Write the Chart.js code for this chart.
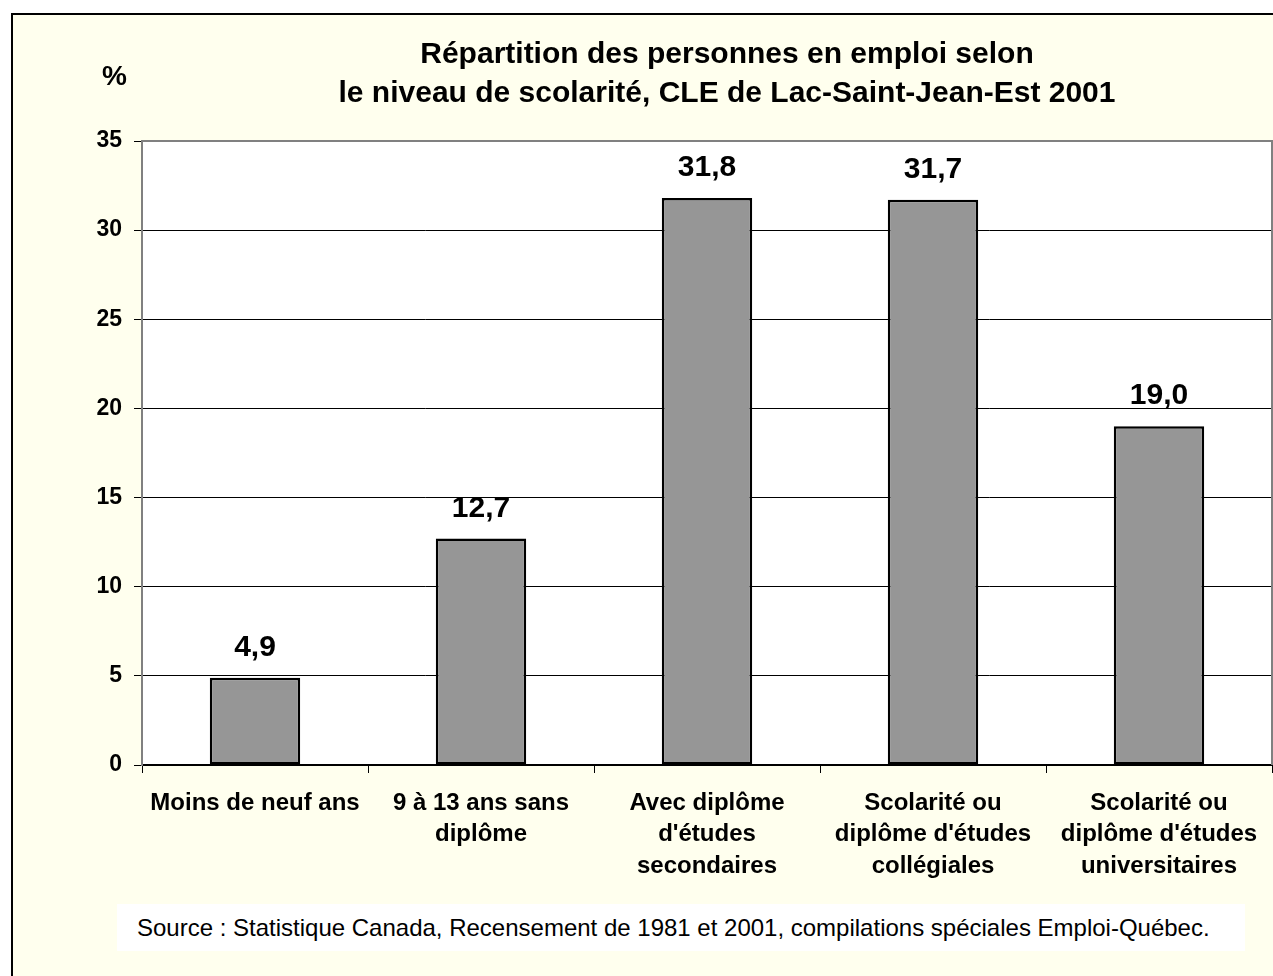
<!DOCTYPE html>
<html>
<head>
<meta charset="utf-8">
<script src="https://cdn.jsdelivr.net/npm/chart.js@4/dist/chart.umd.min.js"></script>
<style>
  html, body { margin: 0; padding: 0; overflow: hidden; background: #fff; }
  body { width: 1273px; height: 976px; position: relative; font-family: "Liberation Sans", Arial, sans-serif; }
  #frame { position: absolute; left: 11px; top: 13px; width: 1400px; height: 1100px; background: #FFFFEE; border: 2px solid #000; box-sizing: border-box; }
  #chartWrap { position: absolute; left: 0; top: 0; width: 1273px; height: 976px; }
  #title { position: absolute; left: 227px; top: 33px; width: 1000px; text-align: center; font-weight: bold; font-size: 30px; line-height: 39px; color: #000; }
  #unit { position: absolute; left: 102px; top: 62px; font-weight: bold; font-size: 28px; line-height: 28px; color: #000; }
  #source { position: absolute; left: 117px; top: 904px; width: 1128px; height: 47px; background: #fff; font-size: 24px; line-height: 47px; padding-left: 20px; box-sizing: border-box; color: #000; white-space: nowrap; }
</style>
</head>
<body>
<div id="frame"></div>
<div id="chartWrap"><canvas id="chart" width="1273" height="976"></canvas></div>
<div id="title">Répartition des personnes en emploi selon<br>le niveau de scolarité, CLE de Lac-Saint-Jean-Est 2001</div>
<div id="unit">%</div>
<div id="source">Source : Statistique Canada, Recensement de 1981 et 2001, compilations spéciales Emploi-Québec.</div>
<script>
// Chart data
const categories = [
  'Moins de neuf ans',
  ['9 à 13 ans sans', 'diplôme'],
  ['Avec diplôme', "d'études", 'secondaires'],
  ['Scolarité ou', "diplôme d'études", 'collégiales'],
  ['Scolarité ou', "diplôme d'études", 'universitaires']
];
const shares = [4.9, 12.7, 31.8, 31.7, 19.0];
const yTicks = [0, 5, 10, 15, 20, 25, 30, 35];

// white plot area, gray frame on top/right, value labels above bars
const plotArea = {
  id: 'plotArea',
  beforeDraw(chart) {
    const { ctx, chartArea: a } = chart;
    ctx.save();
    ctx.fillStyle = '#fff';
    ctx.fillRect(a.left, a.top, a.right - a.left, a.bottom - a.top);
    ctx.restore();
  },
  afterDraw(chart) {
    const { ctx, chartArea: a } = chart;
    ctx.save();
    ctx.strokeStyle = '#808080';
    ctx.lineWidth = 2;
    ctx.beginPath();
    ctx.moveTo(a.left, a.top);
    ctx.lineTo(a.right, a.top);
    ctx.lineTo(a.right, a.bottom);
    ctx.stroke();
    ctx.restore();
  },
  afterDatasetsDraw(chart) {
    const { ctx } = chart;
    const meta = chart.getDatasetMeta(0);
    ctx.save();
    ctx.font = 'bold 30px "Liberation Sans", Arial, sans-serif';
    ctx.fillStyle = '#000';
    ctx.textAlign = 'center';
    ctx.textBaseline = 'alphabetic';
    meta.data.forEach((bar, i) => {
      ctx.fillText(shares[i].toFixed(1).replace('.', ','), bar.x, bar.y - 22);
    });
    ctx.restore();
  }
};

new Chart(document.getElementById('chart').getContext('2d'), {
  type: 'bar',
  data: {
    labels: categories,
    datasets: [{
      data: shares,
      backgroundColor: '#969696',
      borderColor: '#000',
      borderWidth: 2.5,
      borderSkipped: false,
      barPercentage: 0.4,
      categoryPercentage: 1
    }]
  },
  options: {
    responsive: false,
    animation: false,
    layout: { padding: { left: 0, top: 141, right: 1, bottom: 0 } },
    plugins: {
      legend: { display: false },
      title: { display: false },
      tooltip: { enabled: false }
    },
    scales: {
      x: {
        afterFit: s => { s.height = 211; },
        grid: {
          offset: true,
          drawOnChartArea: false,
          tickLength: 8,
          tickColor: '#000'
        },
        border: { color: '#000', width: 2 },
        ticks: {
          color: '#000',
          padding: 15,
          maxRotation: 0,
          autoSkip: false,
          font: { family: '"Liberation Sans", Arial, sans-serif', size: 24, weight: 'bold', lineHeight: 1.3 }
        }
      },
      y: {
        min: 0,
        max: 35,
        afterFit: s => { s.width = 142; },
        afterBuildTicks: s => { s.ticks = yTicks.map(v => ({ value: v })); },
        grid: {
          color: c => (c.tick && c.tick.value === 35 ? '#808080' : '#000'),
          lineWidth: 1,
          tickLength: 8,
          tickColor: '#000'
        },
        border: { color: '#808080', width: 2 },
        ticks: {
          color: '#000',
          padding: 12,
          font: { family: '"Liberation Sans", Arial, sans-serif', size: 23, weight: 'bold' }
        }
      }
    }
  },
  plugins: [plotArea]
});
</script>
</body>
</html>
